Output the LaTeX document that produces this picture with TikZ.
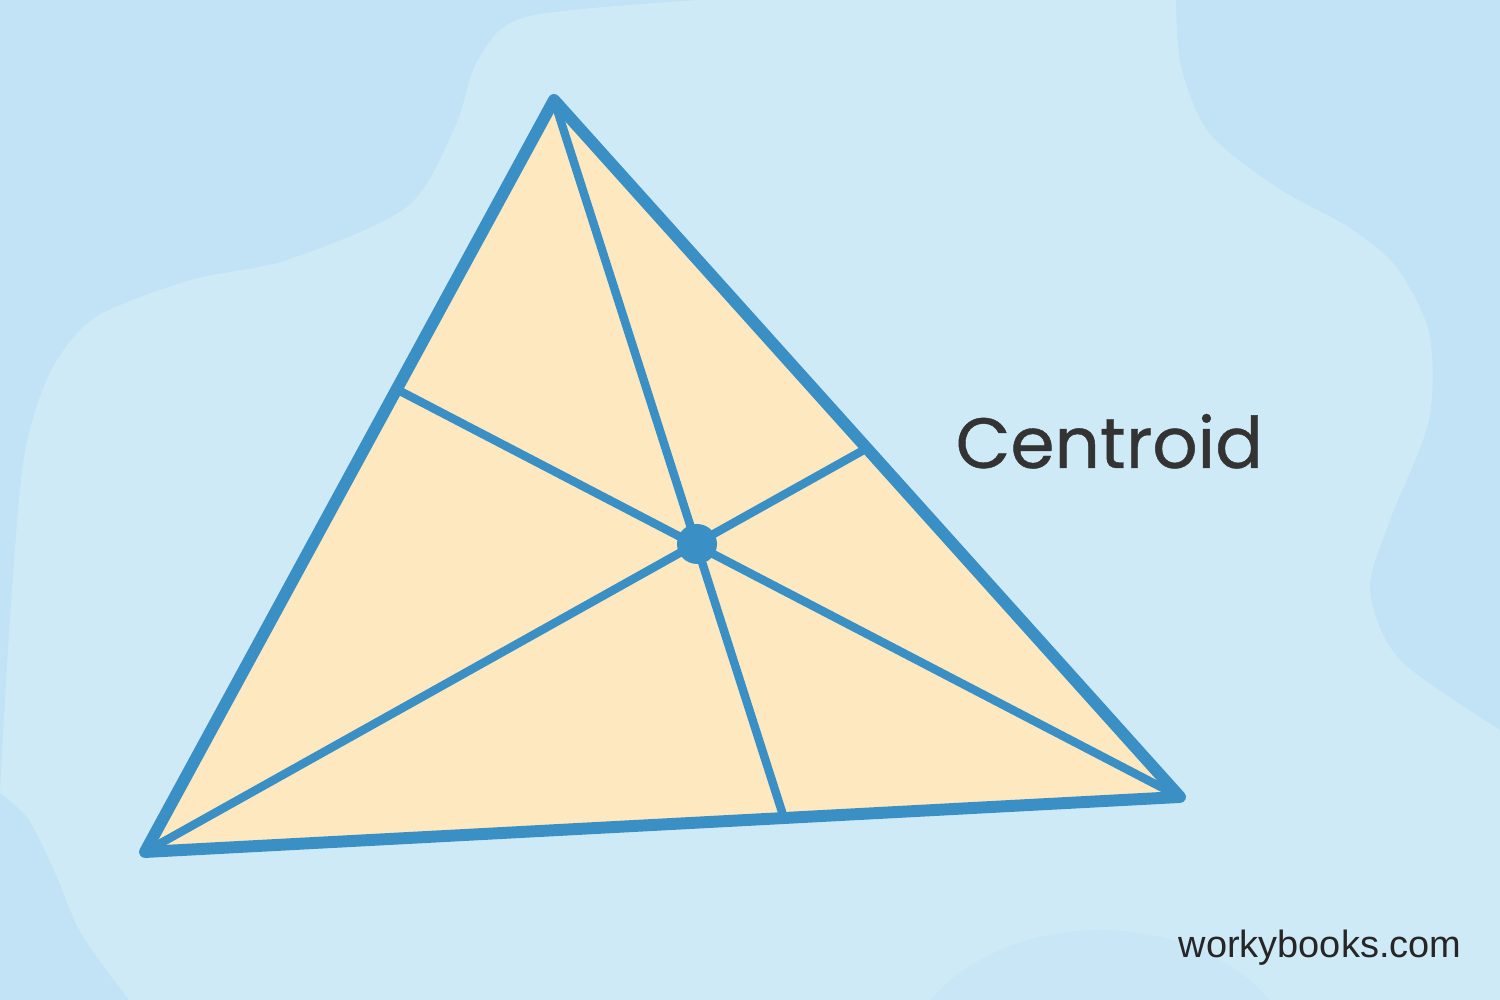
\documentclass[tikz,border=0pt]{standalone}
\usepackage{fontspec}
\newfontfamily\titlefont{Poppins}[FakeBold=0.6]
\newfontfamily\markfont{Liberation Sans}
\definecolor{skydark}{HTML}{C2E3F5}
\definecolor{skylight}{HTML}{CFEAF7}
\definecolor{edgeblue}{HTML}{3A90C5}
\definecolor{cream}{HTML}{FDE8C0}
\definecolor{inkgrey}{HTML}{333333}
\tikzset{
    side/.style={draw=edgeblue, line width=3.4pt, line join=round, line cap=round},
    median/.style={draw=edgeblue, line width=2.4pt, line cap=round},
}
\begin{document}
\begin{tikzpicture}
    % background
    \fill[skydark] (0,0) rectangle (15,10);
    \fill[skylight] (6.99,10) -- plot[smooth] coordinates {(6.99,10) (5.26,9.83) (4.78,9.40) (4.55,8.73) (4.07,7.93) (2.87,7.40) (1.91,7.20) (0.96,6.83) (0.53,6.33) (0.29,5.67) (0.19,5.0) (0.08,3.5) (0,2.07)}
        -- plot[smooth] coordinates {(0,2.07) (0.29,1.80) (0.57,1.23) (0.81,0.67) (1.29,0)}
        -- (15,0) -- (15,2.7)
        -- plot[smooth] coordinates {(15,2.7) (14.0,3.4) (13.7,4.1) (13.9,4.8) (14.29,5.8) (14.29,6.67) (13.96,7.33) (13.48,7.73) (12.76,8.13) (12.09,8.67) (11.81,9.33) (11.76,10)}
        -- cycle;
    \begin{scope}
        \clip (0,0) rectangle (15,10);
        \fill[skydark!55!skylight] (11.0,-0.8) ellipse (2.0 and 1.5);
    \end{scope}
    % triangle and cevians
    \coordinate (A) at (5.54,9.00);
    \coordinate (B) at (1.45,1.48);
    \coordinate (C) at (11.80,2.03);
    \coordinate (Fa) at (7.83,1.85);
    \coordinate (Fb) at (8.62,5.49);
    \coordinate (Fc) at (3.98,6.10);
    \fill[cream] (A) -- (B) -- (C) -- cycle;
    \draw[median] (A) -- (Fa);
    \draw[median] (B) -- (Fb);
    \draw[median] (C) -- (Fc);
    \draw[side] (A) -- (B) -- (C) -- cycle;
    \node[circle, fill=edgeblue, inner sep=0pt, minimum size=0.4cm] (G) at (6.97,4.56) {};
    % labels
    \node[anchor=base west, inner sep=0pt, text=inkgrey, font=\titlefont\fontsize{20.2}{24}\selectfont] (title) at (9.55,5.32) {Centroid};
    \node[anchor=base east, inner sep=0pt, text=black!85, font=\markfont\fontsize{10.8}{13}\selectfont] (site) at (14.62,0.42) {workybooks.com};
\end{tikzpicture}
\end{document}
